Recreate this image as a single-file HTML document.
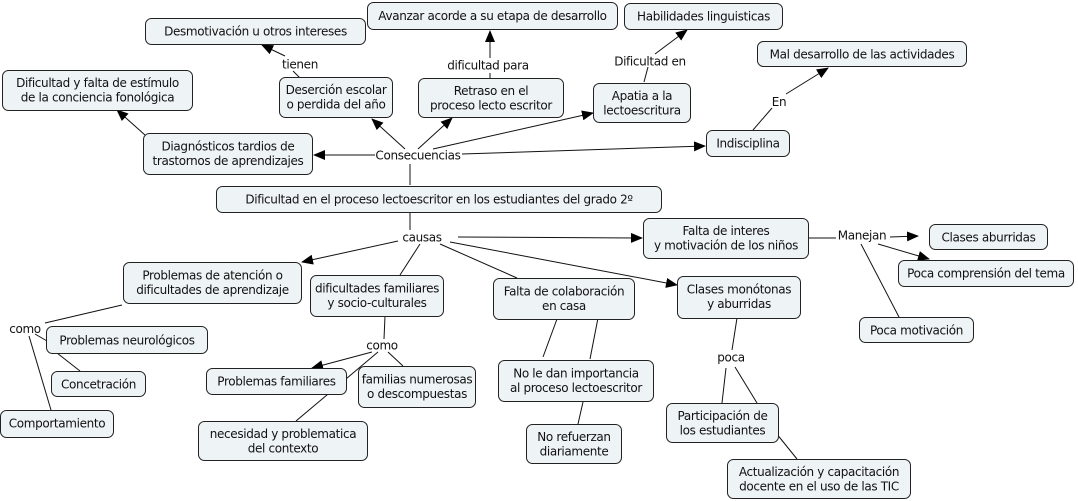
<!DOCTYPE html>
<html><head><meta charset="utf-8"><style>
html,body{margin:0;padding:0;background:#fff;width:1078px;height:501px;overflow:hidden}
svg{display:block}
text{font-family:"DejaVu Sans","Liberation Sans",sans-serif;font-size:12px;fill:#111;letter-spacing:-0.35px}
rect{fill:#eef3f5;stroke:#222;stroke-width:1}
line,polyline{stroke:#111;stroke-width:1;fill:none}
</style></head><body>
<svg width="1078" height="501" viewBox="0 0 1078 501" xmlns="http://www.w3.org/2000/svg">
<defs><marker id="a" markerWidth="12" markerHeight="10" refX="11" refY="5" orient="auto" markerUnits="userSpaceOnUse"><path d="M0,0 L12,5 L0,10 z" fill="#000"/></marker></defs>
<g>
<line x1="410" y1="185" x2="410" y2="164"/>
<line x1="375" y1="155" x2="314" y2="155" marker-end="url(#a)"/>
<line x1="405" y1="149" x2="372" y2="119" marker-end="url(#a)"/>
<line x1="418" y1="149" x2="452" y2="118" marker-end="url(#a)"/>
<line x1="433" y1="149" x2="593" y2="113" marker-end="url(#a)"/>
<line x1="462" y1="154" x2="705" y2="146" marker-end="url(#a)"/>
<line x1="145" y1="135" x2="117" y2="110" marker-end="url(#a)"/>
<line x1="300" y1="78" x2="293" y2="71"/>
<line x1="285" y1="56" x2="262" y2="45" marker-end="url(#a)"/>
<line x1="490" y1="78" x2="490" y2="73"/>
<line x1="490" y1="58" x2="490" y2="31" marker-end="url(#a)"/>
<line x1="644" y1="82" x2="648" y2="67"/>
<line x1="655" y1="54" x2="687" y2="30" marker-end="url(#a)"/>
<line x1="753" y1="130" x2="772" y2="108"/>
<line x1="786" y1="94" x2="828" y2="68" marker-end="url(#a)"/>
<line x1="410" y1="213" x2="410" y2="230"/>
<line x1="398" y1="241" x2="302" y2="262" marker-end="url(#a)"/>
<line x1="458" y1="237" x2="642" y2="238" marker-end="url(#a)"/>
<line x1="420" y1="244" x2="400" y2="275"/>
<line x1="440" y1="244" x2="517" y2="278"/>
<line x1="450" y1="242" x2="677" y2="285" marker-end="url(#a)"/>
<line x1="808" y1="238" x2="836" y2="238"/>
<line x1="890" y1="237" x2="918" y2="236" marker-end="url(#a)"/>
<line x1="878" y1="244" x2="929" y2="259" marker-end="url(#a)"/>
<line x1="861" y1="244" x2="899" y2="317"/>
<line x1="122" y1="305" x2="45" y2="323"/>
<line x1="35" y1="334" x2="47" y2="341"/>
<line x1="57" y1="353" x2="80" y2="371"/>
<line x1="29" y1="336" x2="51" y2="410"/>
<line x1="385" y1="316" x2="384" y2="339"/>
<line x1="372" y1="352" x2="312" y2="368" marker-end="url(#a)"/>
<line x1="388" y1="352" x2="403" y2="366"/>
<line x1="378" y1="352" x2="296" y2="421"/>
<line x1="557" y1="319" x2="543" y2="357"/>
<line x1="598" y1="318" x2="590" y2="359"/>
<line x1="583" y1="402" x2="578" y2="424"/>
<line x1="737" y1="318" x2="732" y2="350"/>
<line x1="726" y1="368" x2="722" y2="403"/>
<line x1="735" y1="367" x2="757" y2="403"/>
<line x1="772" y1="428" x2="797" y2="459"/>
</g>
<g>
<rect x="145.5" y="18.5" width="220" height="26" rx="6"/>
<text x="255.5" y="35.5" text-anchor="middle">Desmotivación u otros intereses</text>
<rect x="367.5" y="2.5" width="250" height="27" rx="6"/>
<text x="492.5" y="20" text-anchor="middle">Avanzar acorde a su etapa de desarrollo</text>
<rect x="624.5" y="3.5" width="158" height="26" rx="6"/>
<text x="703.5" y="20.5" text-anchor="middle">Habilidades linguisticas</text>
<rect x="2.5" y="70.5" width="190" height="40" rx="6"/>
<text x="97.5" y="87" text-anchor="middle">Dificultad y falta de estímulo</text>
<text x="97.5" y="101.5" text-anchor="middle">de la conciencia fonológica</text>
<rect x="279.5" y="77.5" width="113" height="40" rx="6"/>
<text x="336" y="94" text-anchor="middle">Deserción escolar</text>
<text x="336" y="108.5" text-anchor="middle">o perdida del año</text>
<rect x="418.5" y="78.5" width="145" height="39" rx="6"/>
<text x="491" y="95" text-anchor="middle">Retraso en el</text>
<text x="491" y="109.5" text-anchor="middle">proceso lecto escritor</text>
<rect x="593.5" y="83.5" width="97" height="39" rx="6"/>
<text x="642" y="100" text-anchor="middle">Apatia a la</text>
<text x="642" y="114.5" text-anchor="middle">lectoescritura</text>
<rect x="757.5" y="41.5" width="209" height="25" rx="6"/>
<text x="862" y="58.5" text-anchor="middle">Mal desarrollo de las actividades</text>
<rect x="143.5" y="133.5" width="169" height="41" rx="6"/>
<text x="228" y="150.5" text-anchor="middle">Diagnósticos tardios de</text>
<text x="228" y="165" text-anchor="middle">trastornos de aprendizajes</text>
<rect x="706.5" y="130.5" width="83" height="26" rx="6"/>
<text x="748" y="147.5" text-anchor="middle">Indisciplina</text>
<rect x="216.5" y="186.5" width="445" height="26" rx="6"/>
<text x="439" y="203.5" text-anchor="middle">Dificultad en el proceso lectoescritor en los estudiantes del grado 2º</text>
<rect x="643.5" y="218.5" width="165" height="40" rx="6"/>
<text x="726" y="235" text-anchor="middle">Falta de interes</text>
<text x="726" y="249.5" text-anchor="middle">y motivación de los niños</text>
<rect x="929.5" y="224.5" width="118" height="25" rx="6"/>
<text x="988.5" y="241.5" text-anchor="middle">Clases aburridas</text>
<rect x="898.5" y="260.5" width="175" height="26" rx="6"/>
<text x="986" y="277.5" text-anchor="middle">Poca comprensión del tema</text>
<rect x="859.5" y="317.5" width="114" height="25" rx="6"/>
<text x="916.5" y="334.5" text-anchor="middle">Poca motivación</text>
<rect x="123.5" y="262.5" width="178" height="41" rx="6"/>
<text x="212.5" y="279.5" text-anchor="middle">Problemas de atención o</text>
<text x="212.5" y="294" text-anchor="middle">dificultades de aprendizaje</text>
<rect x="310.5" y="275.5" width="133" height="41" rx="6"/>
<text x="377" y="292.5" text-anchor="middle">dificultades familiares</text>
<text x="377" y="307" text-anchor="middle">y socio-culturales</text>
<rect x="493.5" y="278.5" width="141" height="41" rx="6"/>
<text x="564" y="295.5" text-anchor="middle">Falta de colaboración</text>
<text x="564" y="310" text-anchor="middle">en casa</text>
<rect x="677.5" y="276.5" width="123" height="42" rx="6"/>
<text x="739" y="293.5" text-anchor="middle">Clases monótonas</text>
<text x="739" y="308" text-anchor="middle">y aburridas</text>
<rect x="46.5" y="326.5" width="161" height="27" rx="6"/>
<text x="127" y="344.5" text-anchor="middle">Problemas neurológicos</text>
<rect x="51.5" y="371.5" width="94" height="25" rx="6"/>
<text x="98.5" y="388.5" text-anchor="middle">Concetración</text>
<rect x="0.5" y="410.5" width="113" height="27" rx="6"/>
<text x="57" y="427.5" text-anchor="middle">Comportamiento</text>
<rect x="206.5" y="368.5" width="140" height="26" rx="6"/>
<text x="276.5" y="385.5" text-anchor="middle">Problemas familiares</text>
<rect x="358.5" y="366.5" width="117" height="41" rx="6"/>
<text x="417" y="383.5" text-anchor="middle">familias numerosas</text>
<text x="417" y="398" text-anchor="middle">o descompuestas</text>
<rect x="198.5" y="421.5" width="169" height="39" rx="6"/>
<text x="283" y="438" text-anchor="middle">necesidad y problematica</text>
<text x="283" y="452.5" text-anchor="middle">del contexto</text>
<rect x="498.5" y="360.5" width="155" height="41" rx="6"/>
<text x="576" y="377.5" text-anchor="middle">No le dan importancia</text>
<text x="576" y="392" text-anchor="middle">al proceso lectoescritor</text>
<rect x="526.5" y="424.5" width="95" height="39" rx="6"/>
<text x="574" y="441" text-anchor="middle">No refuerzan</text>
<text x="574" y="455.5" text-anchor="middle">diariamente</text>
<rect x="666.5" y="403.5" width="112" height="39" rx="6"/>
<text x="722.5" y="420" text-anchor="middle">Participación de</text>
<text x="722.5" y="434.5" text-anchor="middle">los estudiantes</text>
<rect x="727.5" y="459.5" width="183" height="39" rx="6"/>
<text x="819" y="476" text-anchor="middle">Actualización y capacitación</text>
<text x="819" y="490.5" text-anchor="middle">docente en el uso de las TIC</text>
</g>
<g>
<text x="300" y="68.5" text-anchor="middle">tienen</text>
<text x="488" y="69.5" text-anchor="middle">dificultad para</text>
<text x="650" y="65.5" text-anchor="middle">Dificultad en</text>
<text x="779" y="106" text-anchor="middle">En</text>
<text x="418" y="159.5" text-anchor="middle">Consecuencias</text>
<text x="422" y="241.5" text-anchor="middle">causas</text>
<text x="862" y="239.5" text-anchor="middle">Manejan</text>
<text x="25" y="333" text-anchor="middle">como</text>
<text x="382" y="349.5" text-anchor="middle">como</text>
<text x="731" y="361.5" text-anchor="middle">poca</text>
</g>
</svg>
</body></html>
